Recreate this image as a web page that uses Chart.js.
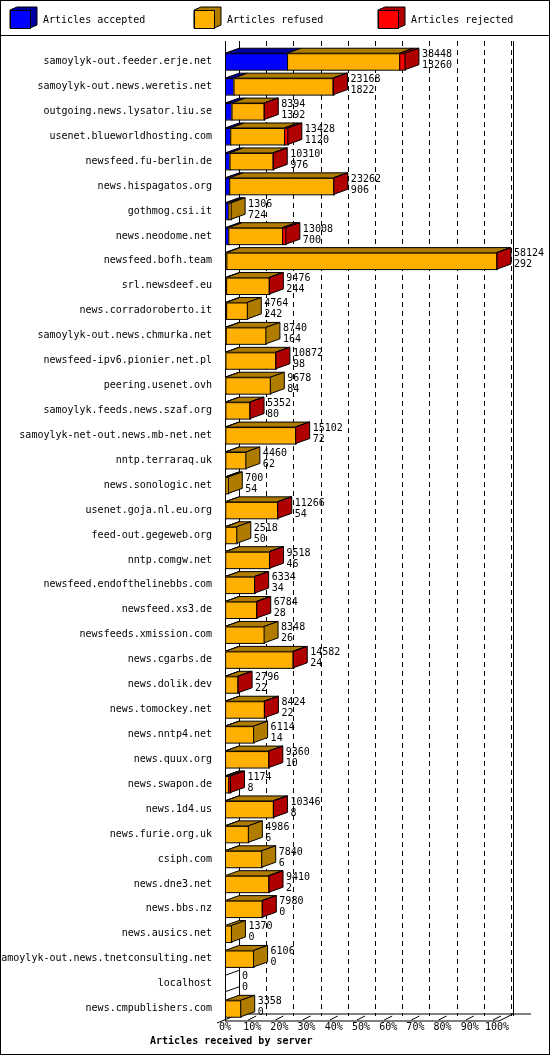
<!DOCTYPE html>
<html><head><meta charset="utf-8">
<script src="https://cdn.jsdelivr.net/npm/chart.js@4"></script>
<style>html,body{margin:0;padding:0;background:#fff}canvas{display:block}</style>
</head><body>
<canvas id="c" width="550" height="1055"></canvas>
<script>
const servers = ["samoylyk-out.feeder.erje.net","samoylyk-out.news.weretis.net","outgoing.news.lysator.liu.se","usenet.blueworldhosting.com","newsfeed.fu-berlin.de","news.hispagatos.org","gothmog.csi.it","news.neodome.net","newsfeed.bofh.team","srl.newsdeef.eu","news.corradoroberto.it","samoylyk-out.news.chmurka.net","newsfeed-ipv6.pionier.net.pl","peering.usenet.ovh","samoylyk.feeds.news.szaf.org","samoylyk-net-out.news.mb-net.net","nntp.terraraq.uk","news.sonologic.net","usenet.goja.nl.eu.org","feed-out.gegeweb.org","nntp.comgw.net","newsfeed.endofthelinebbs.com","newsfeed.xs3.de","newsfeeds.xmission.com","news.cgarbs.de","news.dolik.dev","news.tomockey.net","news.nntp4.net","news.quux.org","news.swapon.de","news.1d4.us","news.furie.org.uk","csiph.com","news.dne3.net","news.bbs.nz","news.ausics.net","samoylyk-out.news.tnetconsulting.net","localhost","news.cmpublishers.com"];
const totals = [38448,23168,8394,13428,10310,23262,1306,13008,58124,9476,4764,8740,10872,9678,5352,15102,4460,700,11266,2518,9518,6334,6784,8348,14582,2796,8424,6114,9360,1174,10346,4986,7840,9410,7980,1370,6106,0,3358];
const accepted = [13260,1822,1392,1120,976,906,724,700,292,244,242,164,98,84,80,72,62,54,54,50,46,34,28,26,24,22,22,14,10,8,8,6,6,2,0,0,0,0,0];
const rejected = [1200,150,100,800,100,100,0,800,100,100,0,0,100,0,100,100,0,0,100,0,100,100,100,0,100,100,100,0,100,466,100,0,0,100,100,0,0,0,0];
const refused = totals.map((t,i)=>t-accepted[i]-rejected[i]);
const tickLabels = ["0%","10%","20%","30%","40%","50%","60%","70%","80%","90%","100%"];
const maxTotal = 58124;

const DX=14, DY=5;
const front=["#0000ff","#ffb000","#ff0000"], dark=["#0000a0","#b07c00","#b00000"];
const FONT='10px "DejaVu Sans Mono", monospace';

const plugin={
 id:'p3d',
 beforeDatasetsDraw(ch){
  const c=ch.ctx,a=ch.chartArea,x=ch.scales.x;
  c.save();c.fillStyle='#fff';c.fillRect(a.left-1,a.top-10,550-a.left,a.bottom-a.top+40);
  c.strokeStyle='#000';c.lineWidth=1;
  const R=a.right+DX+2;
  c.beginPath();c.moveTo(a.left+DX+.5,a.top-8);c.lineTo(a.left+DX+.5,a.bottom-DY);
  c.moveTo(R+.5,a.top-8);c.lineTo(R+.5,a.bottom-DY);
  c.moveTo(a.left+.5,a.top-8);c.lineTo(a.left+.5,a.bottom);
  c.stroke();
  c.setLineDash([5,4]);c.beginPath();
  for(let i=1;i<=10;i++){const px=Math.round(x.getPixelForValue(maxTotal*i/10))+DX+.5;c.moveTo(px,a.top-8);c.lineTo(px,a.bottom-DY);}
  c.stroke();c.setLineDash([]);
  c.beginPath();c.moveTo(a.left-8,a.bottom+2);c.lineTo(a.left+DX,a.bottom-DY-2);c.lineTo(R+18,a.bottom-DY-2);
  c.moveTo(R,a.bottom-DY-2);c.lineTo(a.right+2,a.bottom);c.lineTo(a.left,a.bottom);
  c.stroke();
  c.font=FONT;c.fillStyle='#000';c.textAlign='center';c.textBaseline='top';
  for(let i=0;i<=10;i++){const px=x.getPixelForValue(maxTotal*i/10);
   c.fillText(tickLabels[i],px,a.bottom+1);
   if(i>0){c.beginPath();c.moveTo(px-4,a.bottom-1);c.lineTo(px+4,a.bottom-5);c.stroke();}}
  c.font='bold 10px "DejaVu Sans Mono", monospace';c.textAlign='left';
  c.fillText("Articles received by server",150,a.bottom+15);
  c.restore();
 },
 afterDatasetsDraw(ch){
  const c=ch.ctx;c.save();c.lineWidth=1;c.strokeStyle='#000';
  const metas=[0,1,2].map(d=>ch.getDatasetMeta(d));
  servers.forEach((s,i)=>{
   let last=-1;
   for(let d=0;d<3;d++){const el=metas[d].data[i];const w=el.x-el.base;
    if(w>0.01){last=d;
     const top=el.y-el.height/2;
     c.fillStyle=dark[d];c.beginPath();c.moveTo(el.base,top);c.lineTo(el.base+DX,top-DY);c.lineTo(el.x+DX,top-DY);c.lineTo(el.x,top);c.closePath();c.fill();c.stroke();
     c.fillStyle=front[d];c.fillRect(el.base,top,w,el.height);c.strokeRect(el.base+.5,top+.5,w,el.height);
    }}
   const el0=metas[0].data[i];const top=el0.y-el0.height/2,bot=top+el0.height;
   let endX=el0.base;
   if(last>=0){const el=metas[last].data[i];endX=el.x;
    c.fillStyle=dark[last];c.beginPath();c.moveTo(el.x,top);c.lineTo(el.x+DX,top-DY);c.lineTo(el.x+DX,bot-DY);c.lineTo(el.x,bot);c.closePath();c.fill();c.stroke();}
   else{c.beginPath();c.moveTo(endX,top);c.lineTo(endX+DX,top-DY);c.moveTo(endX,bot);c.lineTo(endX+DX,bot-DY);c.stroke();}
   c.fillStyle='#000';c.font=FONT;c.textAlign='left';c.textBaseline='middle';
   c.fillText(String(totals[i]),endX+DX+3,el0.y-7);
   c.fillText(String(accepted[i]),endX+DX+3,el0.y+4);
  });
  c.restore();
 },
 afterDraw(ch){
  const c=ch.ctx;c.save();c.strokeStyle='#000';c.lineWidth=1;
  c.strokeRect(.5,.5,549,1054);
  c.beginPath();c.moveTo(0,35.5);c.lineTo(550,35.5);c.stroke();
  const names=["Articles accepted","Articles refused","Articles rejected"],xs=[10,194,378];
  c.font=FONT;c.textBaseline='middle';c.textAlign='left';
  for(let d=0;d<3;d++){const x0=xs[d];
   c.fillStyle=dark[d];c.beginPath();c.moveTo(x0,10);c.lineTo(x0+7,7);c.lineTo(x0+27,7);c.lineTo(x0+27,25);c.lineTo(x0+20,28);c.lineTo(x0,28);c.closePath();c.fill();c.stroke();
   c.fillStyle=front[d];c.fillRect(x0,10,20,18);c.strokeRect(x0+.5,10.5,20,18);
   c.fillStyle='#000';c.fillText(names[d],x0+33,20);}
  c.restore();
 }
};

new Chart(document.getElementById('c'),{
 type:'bar',
 data:{labels:servers,datasets:[
  {label:"Articles accepted",data:accepted,backgroundColor:front[0]},
  {label:"Articles refused",data:refused,backgroundColor:front[1]},
  {label:"Articles rejected",data:rejected,backgroundColor:front[2]}]},
 options:{indexAxis:'y',responsive:false,animation:false,devicePixelRatio:1,
  layout:{padding:{top:49,right:53,bottom:34,left:0}},
  datasets:{bar:{categoryPercentage:0.66,barPercentage:1,borderWidth:0}},
  plugins:{legend:{display:false},tooltip:{enabled:false}},
  scales:{
   x:{display:false,stacked:true,min:0,max:maxTotal},
   y:{stacked:true,grid:{display:false},border:{display:false},
      afterFit(s){s.width=225;},
      ticks:{padding:5,color:'#000',font:{family:'"DejaVu Sans Mono", monospace',size:10},autoSkip:false}}
  }},
 plugins:[plugin]
});
</script>
</body></html>
